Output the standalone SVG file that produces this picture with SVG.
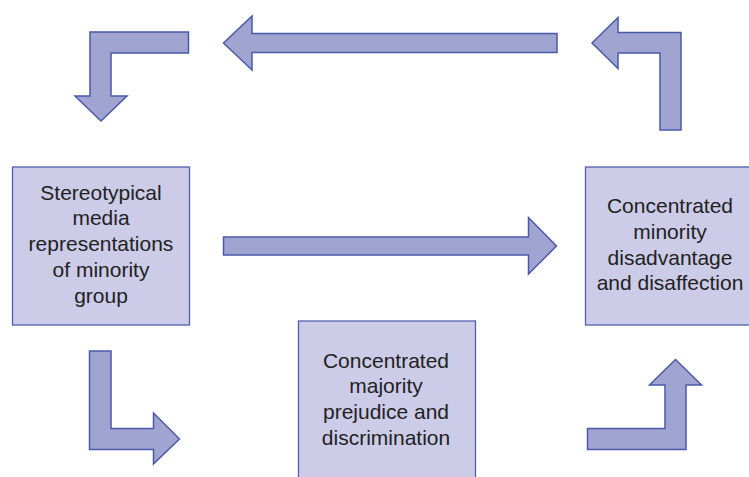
<svg xmlns="http://www.w3.org/2000/svg" width="749" height="477" viewBox="0 0 749 477">
<style>
.box{fill:#CCCCE8;stroke:#5060B0;stroke-width:1.3}
.arr{fill:#A1A3D0;stroke:#4A5AAA;stroke-width:1.5;stroke-linejoin:miter}
text{font-family:"Liberation Sans",Arial,sans-serif;font-size:21px;fill:#222;text-anchor:middle}
</style>
<rect width="749" height="477" fill="#fff"/>
<g id="node-stereotypical">
<rect class="box" x="12.5" y="167" width="177" height="158"/>
<text x="101" y="199.5">Stereotypical</text>
<text x="101" y="225.3">media</text>
<text x="101" y="251.1">representations</text>
<text x="101" y="276.9">of minority</text>
<text x="101" y="302.7">group</text>
</g>
<g id="node-minority">
<rect class="box" x="585.5" y="167" width="177" height="158"/>
<text x="670" y="213">Concentrated</text>
<text x="670" y="238.8">minority</text>
<text x="670" y="264.6">disadvantage</text>
<text x="670" y="290.4">and disaffection</text>
</g>
<g id="node-majority">
<rect class="box" x="298.5" y="321" width="177" height="170"/>
<text x="386" y="367.5">Concentrated</text>
<text x="386" y="393.3">majority</text>
<text x="386" y="419.1">prejudice and</text>
<text x="386" y="444.9">discrimination</text>
</g>
<g id="connectors">
<polygon class="arr" points="90,32 188.5,32 188.5,53 111,53 111,96 127,96 101,121 75,96 90,96"/>
<polygon class="arr" points="557,33.5 557,52.5 252,52.5 252,70 223.5,43 252,16 252,33.5"/>
<polygon class="arr" points="681,130 660,130 660,53 618,53 618,68.5 592,43 618,17.5 618,32.5 681,32.5"/>
<polygon class="arr" points="223.5,237 528.5,237 528.5,217.5 556.5,246 528.5,274 528.5,255 223.5,255"/>
<polygon class="arr" points="89.5,351 111,351 111,428.5 153.5,428.5 153.5,413 179.5,439 153.5,464 153.5,449.5 89.5,449.5"/>
<polygon class="arr" points="587.5,449.5 587.5,428.5 665,428.5 665,385 649.5,385 675.5,359.5 701.5,385 686,385 686,449.5"/>
</g>
</svg>
